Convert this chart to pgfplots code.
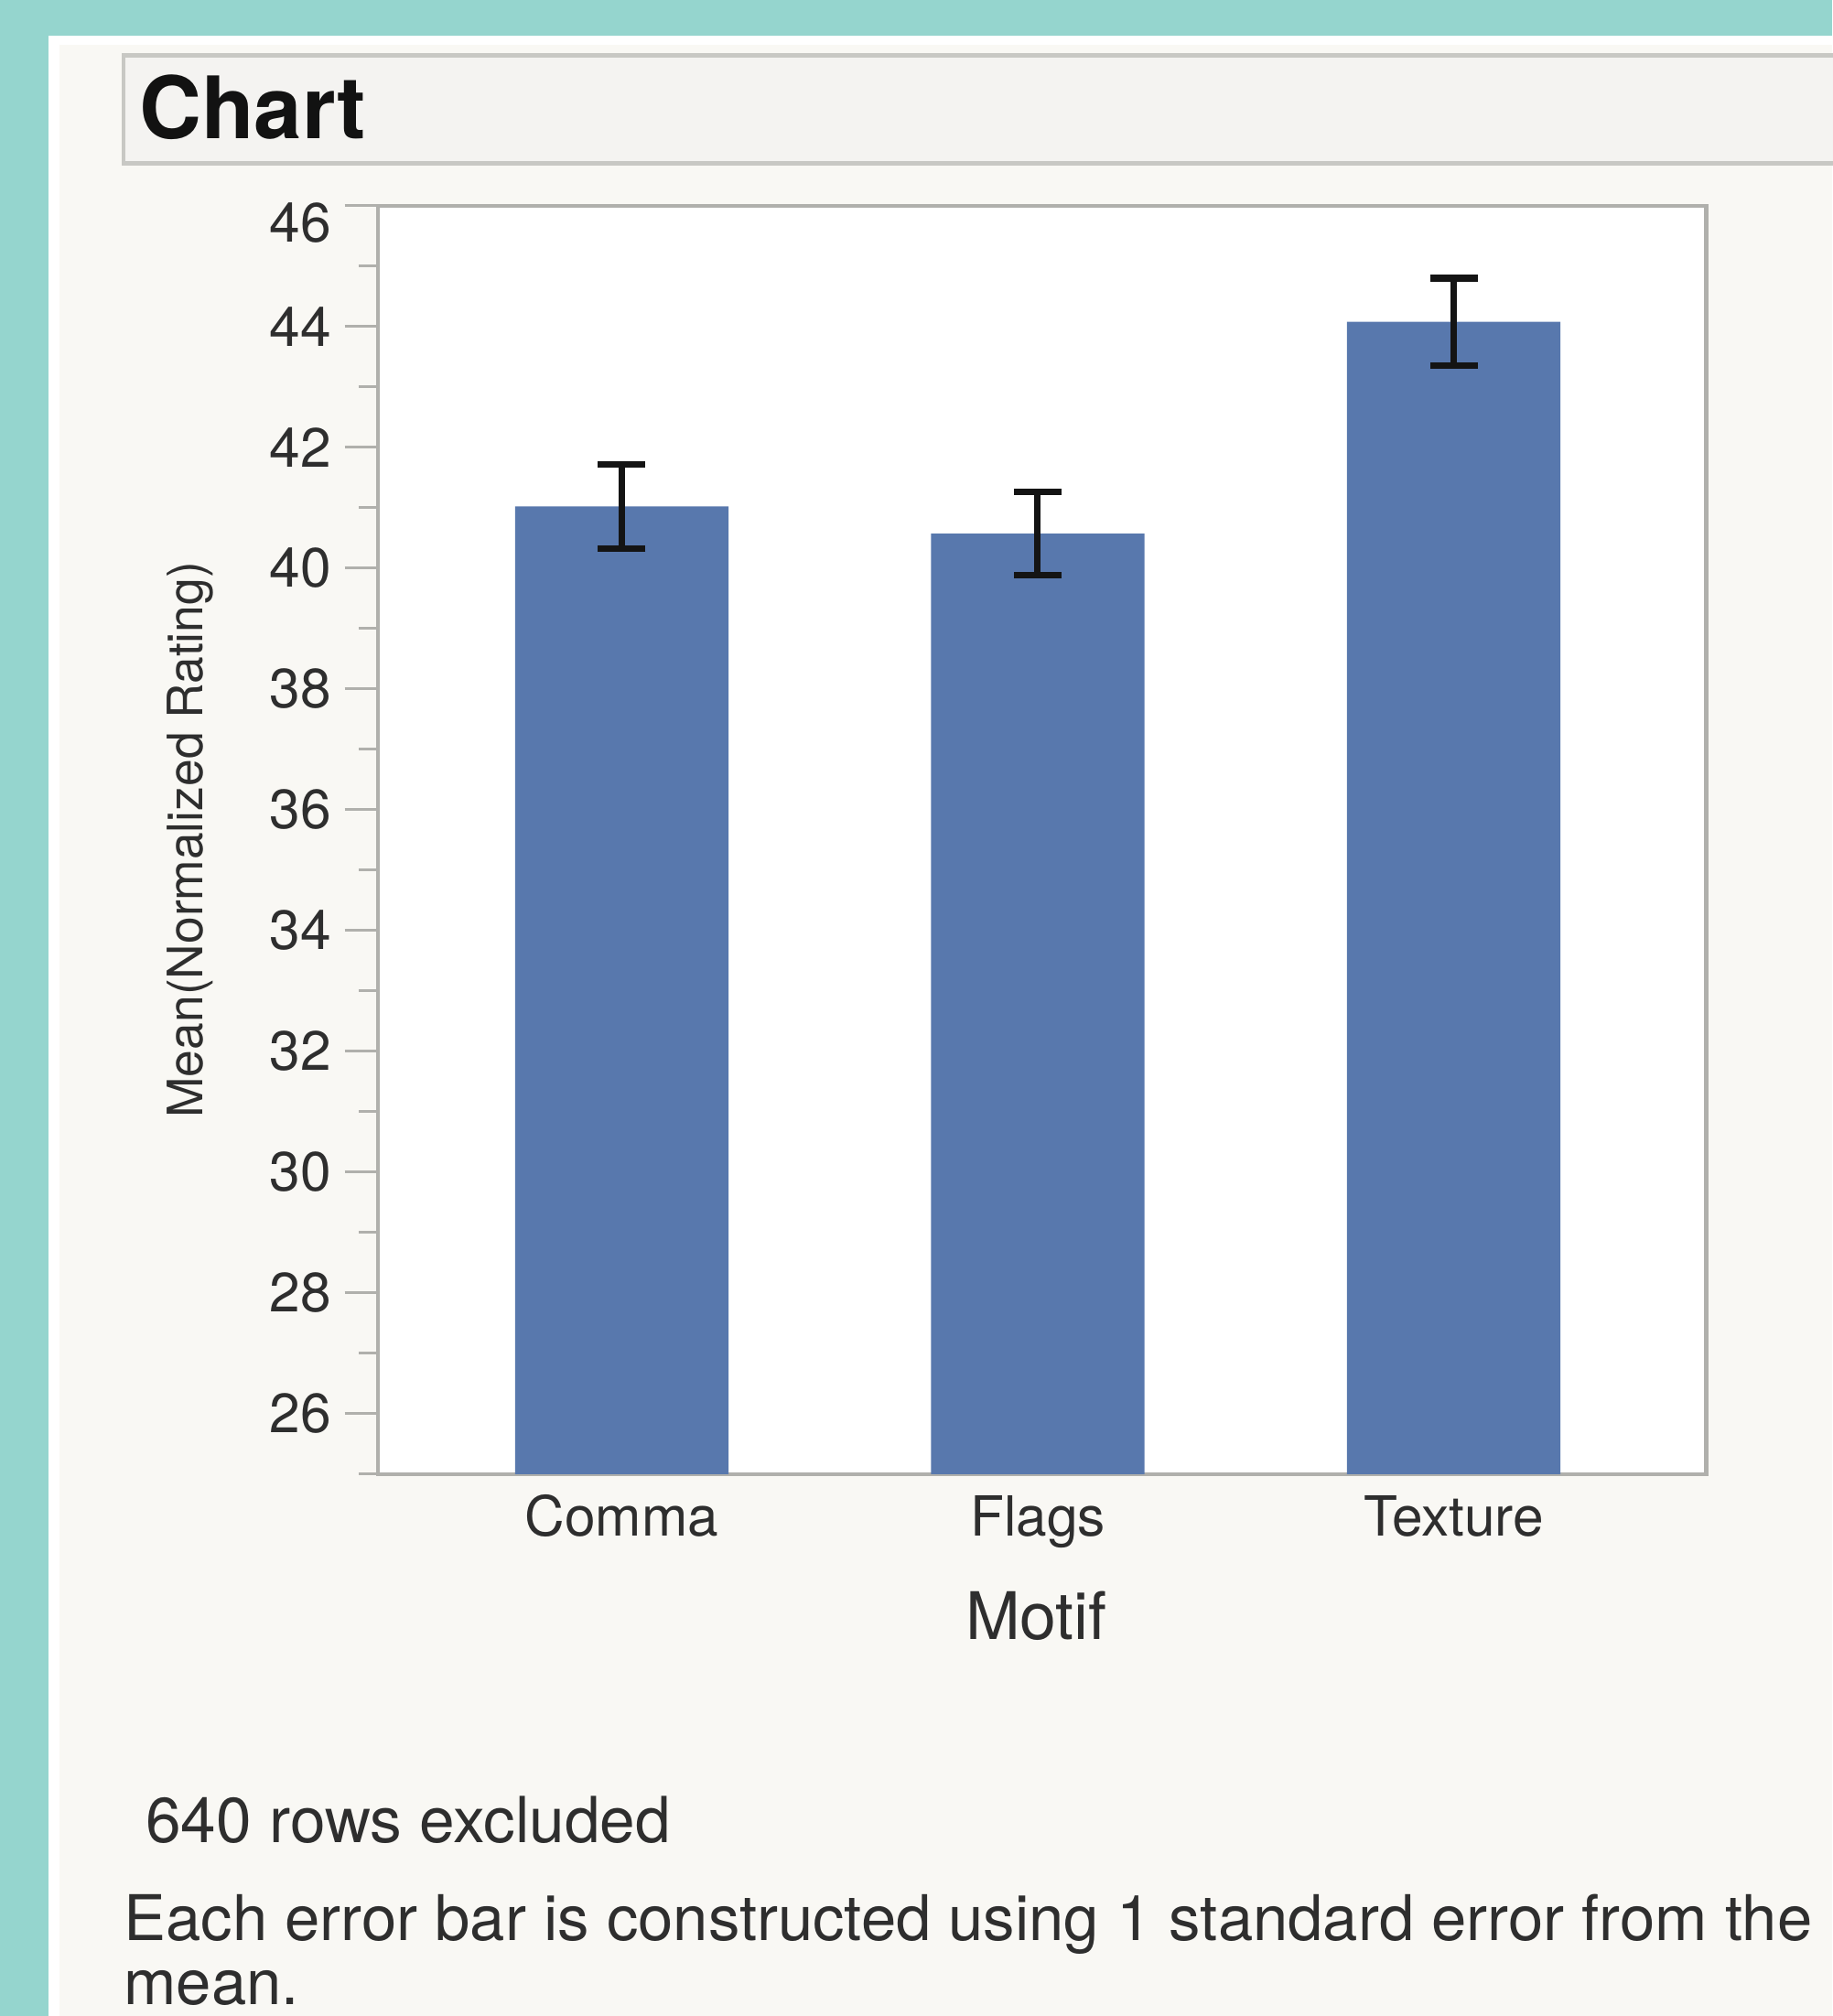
\documentclass[border=0pt]{standalone}
\usepackage{fontspec}
\setmainfont{TeX Gyre Heros}
\usepackage{pgfplots}
\pgfplotsset{compat=1.18}
\definecolor{teal1}{HTML}{95D5CE}
\definecolor{panel}{HTML}{F9F8F4}
\definecolor{titlefill}{HTML}{F4F3F1}
\definecolor{titleedge}{HTML}{C8C8C4}
\definecolor{axisgray}{HTML}{B0B0AC}
\definecolor{barblue}{HTML}{5878AD}
\definecolor{txt}{HTML}{2E2E2E}
\definecolor{errblack}{HTML}{141414}
\begin{document}
\begin{tikzpicture}
\fill[teal1] (0pt,0pt) rectangle (712.5pt,-784pt);
\fill[white] (19pt,-14pt) rectangle (712.5pt,-784pt);
\fill[panel] (23pt,-17.5pt) rectangle (712.5pt,-784pt);
\draw[titleedge, line width=1.5pt, fill=titlefill] (48pt,-21.5pt) rectangle (730pt,-63.5pt);
\node[anchor=base west, inner sep=0pt, text=black!93, font=\fontsize{33.5}{40}\selectfont\bfseries] at (54pt,-54pt) {Chart};
\begin{axis}[
  at={(147pt,-573.25pt)}, anchor=south west,
  scale only axis, width=516.5pt, height=493.25pt,
  xmin=-0.586, xmax=2.607, ymin=25, ymax=46,
  ybar, bar width=83pt,
  axis background/.style={fill=white},
  axis line style={draw=axisgray, line width=1.5pt},
  xtick={0,1,2}, xticklabels={Comma,Flags,Texture},
  xtick pos=bottom, ytick pos=left,
  xtick align=inside,
  x tick style={draw=none},
  ytick={26,28,...,44}, minor ytick={25,27,...,45},
  extra y ticks={46},
  extra y tick style={grid=none, yticklabel style={yshift=-6.5pt}},
  ytick align=outside, major tick length=13pt, minor tick length=7.5pt,
  y tick style={draw=axisgray, line width=1pt},
  every tick/.style={draw=axisgray, line width=1pt},
  tick label style={font=\fontsize{21.5}{26}\selectfont, text=txt},
  /pgf/number format/assume math mode=true,
  xticklabel style={anchor=base, yshift=-24.25pt},
  yticklabel style={anchor=east, inner xsep=5pt},
  xlabel={Motif},
  xlabel style={at={(axis description cs:0.4956,0)}, anchor=base, yshift=-64.25pt, font=\fontsize{25.5}{30}\selectfont, text=txt},
  ylabel={Mean(Normalized Rating)},
  ylabel style={at={(axis description cs:-0.1413,0.5)}, anchor=center, font=\fontsize{19}{23}\selectfont, text=txt},
]
\addplot[fill=barblue, draw=none,
  error bars/.cd, y dir=both, y explicit,
  error bar style={line width=2.5pt, color=errblack},
  error mark options={rotate=90, mark size=9.25pt, line width=2.5pt, color=errblack}]
  coordinates {(0,41.02) +- (0,0.69) (1,40.57) +- (0,0.69) (2,44.08) +- (0,0.72)};
\end{axis}
\node[anchor=base west, inner sep=0pt, text=txt, font=\fontsize{24.7}{29}\selectfont] at (56.5pt,-716.5pt) {640 rows excluded};
\node[anchor=base west, inner sep=0pt, text=txt, font=\fontsize{24.5}{29}\selectfont] at (48pt,-754.5pt) {Each error bar is constructed using 1 standard error from the};
\node[anchor=base west, inner sep=0pt, text=txt, font=\fontsize{24.5}{29}\selectfont] at (48pt,-779.5pt) {mean.};
\pgfresetboundingbox
\path[use as bounding box] (0pt,0pt) rectangle (712.5pt,-784pt);
\end{tikzpicture}
\end{document}
